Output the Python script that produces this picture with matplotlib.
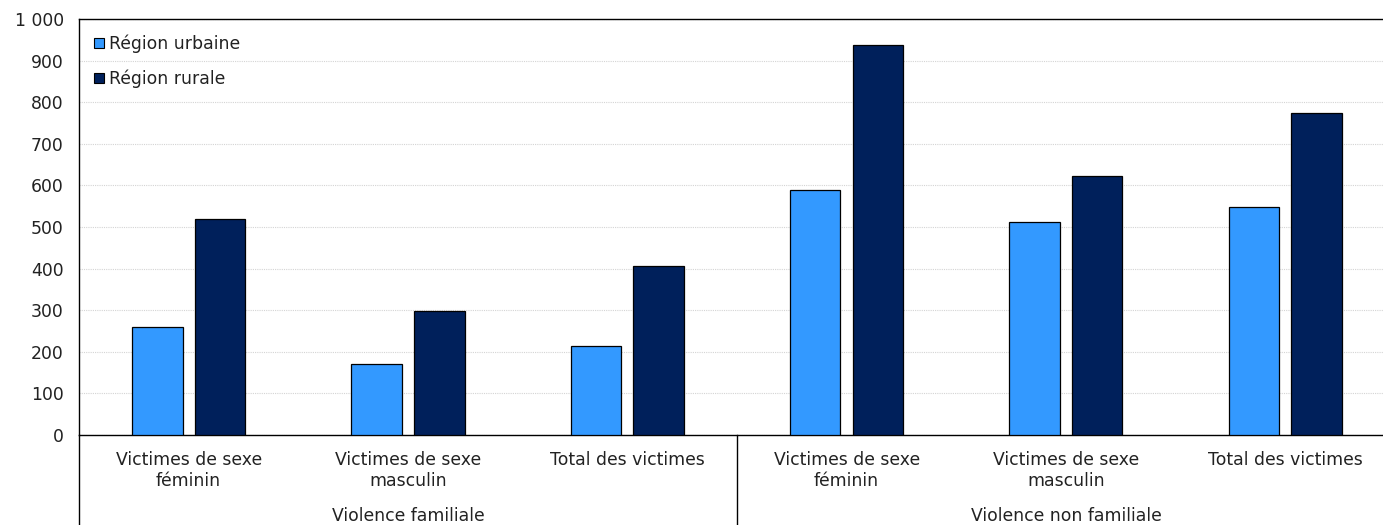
import numpy as np
import matplotlib.pyplot as plt
from matplotlib.lines import Line2D
from matplotlib.ticker import FuncFormatter

categories = ['Victimes de sexe\nféminin', 'Victimes de sexe\nmasculin', 'Total des victimes',
              'Victimes de sexe\nféminin', 'Victimes de sexe\nmasculin', 'Total des victimes']
groups = ['Violence familiale', 'Violence non familiale']
urbaine = [260, 171, 214, 589, 512, 548]
rurale = [519, 299, 406, 937, 623, 774]

plt.rcParams['font.family'] = ['DejaVu Sans']
fs = 12.4

fig = plt.figure(figsize=(13.83, 5.25), dpi=100)
ax = fig.add_axes([79/1383, 1-435/525, 1-79/1383, 416/525])

x = np.arange(len(categories))
w = 0.23
off = 0.143
ax.bar(x - off, urbaine, w, color='#3399ff', edgecolor='black', linewidth=0.9,
       label='Région urbaine', zorder=3)
ax.bar(x + off, rurale, w, color='#00205b', edgecolor='black', linewidth=0.9,
       label='Région rurale', zorder=3)

ax.set_xlim(-0.5, 5.446)
ax.set_ylim(0, 1000)
ax.set_yticks(range(0, 1001, 100))
ax.yaxis.set_major_formatter(FuncFormatter(lambda v, p: f'{int(v):,}'.replace(',', ' ')))
ax.tick_params(axis='y', length=0, pad=11, labelsize=fs, labelcolor='#222222')
ax.set_xticks([])
ax.grid(axis='y', color='#d4d4d4', linestyle=(0, (1, 1)), linewidth=0.8, zorder=0)
for s in ['left', 'top', 'bottom']:
    ax.spines[s].set_color('black')
    ax.spines[s].set_linewidth(1)
ax.spines['right'].set_visible(False)

# category labels and group labels below the axis
trans = ax.get_xaxis_transform()
for i, c in enumerate(categories):
    ax.text(i, -0.038, c, transform=trans, ha='center', va='top', fontsize=fs,
            color='#222222', linespacing=1.2)
for g, xc in zip(groups, [1, 4]):
    ax.text(xc, -0.172, g, transform=trans, ha='center', va='top', fontsize=fs,
            color='#222222')
for xl in [-0.5, 2.5]:
    ax.add_line(Line2D([xl, xl], [0, -0.3], transform=trans, color='black',
                       linewidth=1, clip_on=False))

leg = ax.legend(loc='upper left', bbox_to_anchor=(-0.002, 1.004), frameon=False,
                fontsize=fs, handlelength=0.62, handleheight=0.55, handletextpad=0.25,
                labelspacing=0.95, borderaxespad=0.6, labelcolor='#222222')
for h in leg.legend_handles:
    h.set_linewidth(0.8)

fig.savefig('out.png', dpi=100)
